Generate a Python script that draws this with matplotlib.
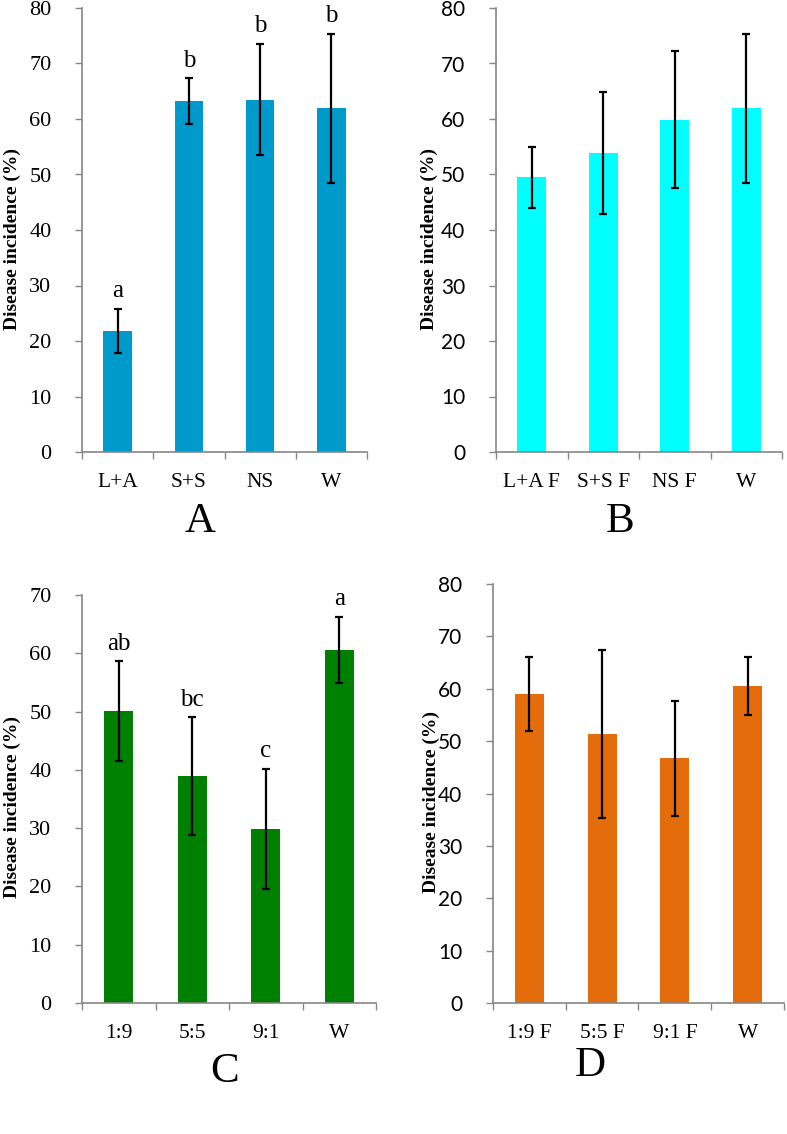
import matplotlib.pyplot as plt

cats_a = ['L+A', 'S+S', 'NS', 'W']
vals_a = [21.8, 63.2, 63.5, 61.9]
err_a = [4.0, 4.1, 10.0, 13.5]
sig_a = ['a', 'b', 'b', 'b']

cats_b = ['L+A F', 'S+S F', 'NS F', 'W']
vals_b = [49.5, 53.8, 59.9, 61.9]
err_b = [5.5, 11.0, 12.4, 13.5]

cats_c = ['1:9', '5:5', '9:1', 'W']
vals_c = [50.1, 38.9, 29.9, 60.6]
err_c = [8.5, 10.1, 10.3, 5.7]
sig_c = ['ab', 'bc', 'c', 'a']

cats_d = ['1:9 F', '5:5 F', '9:1 F', 'W']
vals_d = [59.0, 51.4, 46.7, 60.5]
err_d = [7.1, 16.0, 11.0, 5.6]

W, H = 787, 1134
SERIF = 'Liberation Serif'
SANS = 'Lato'
GRAY = '#868686'

fig = plt.figure(figsize=(W / 100, H / 100), dpi=100)


def px_rect(x0, x1, ytop, ybot):
    return [x0 / W, 1 - ybot / H, (x1 - x0) / W, (ybot - ytop) / H]


def panel(rect, cats, vals, errs, color, ymax, tickfont, label_gap, letter, letter_xy, sig=None):
    ax = fig.add_axes(rect)
    x = list(range(len(cats)))
    ax.bar(x, vals, width=0.4, color=color, zorder=2)
    ax.errorbar(x, vals, yerr=errs, fmt='none', ecolor='black',
                elinewidth=1.6, capsize=3, capthick=1.6, zorder=3)
    if sig:
        for xi, v, e, s in zip(x, vals, errs, sig):
            ax.annotate(s, (xi, v + e), xytext=(0, 8.5), textcoords='offset points',
                        ha='center', va='baseline', fontsize=18, family=SERIF)
    ax.set_xlim(-0.5, len(cats) - 0.5)
    ax.set_ylim(0, ymax)
    ax.set_yticks(range(0, ymax + 1, 10))
    ax.set_xticks([i - 0.5 for i in range(len(cats) + 1)])
    ax.set_xticklabels([])
    ax.set_xticks(x, minor=True)
    ax.set_xticklabels(cats, minor=True, fontsize=15.5, family=SERIF)
    ax.tick_params(axis='x', which='minor', length=0, pad=15)
    ax.tick_params(axis='x', which='major', length=5, width=1, color=GRAY, direction='out')
    ax.tick_params(axis='y', length=5, width=1, color=GRAY, direction='out', pad=17)
    for lab in ax.get_yticklabels():
        lab.set_family(tickfont)
        lab.set_fontsize(16 if tickfont == SERIF else 15)
    for side in ['top', 'right']:
        ax.spines[side].set_visible(False)
    for side in ['left', 'bottom']:
        ax.spines[side].set_color(GRAY)
        ax.spines[side].set_linewidth(1.2)
    ax.set_ylabel('Disease incidence (%)', fontsize=14, fontweight='bold', family=SERIF)
    width_px = rect[2] * W
    ax.yaxis.set_label_coords(-label_gap / width_px, 0.48)
    fig.text(letter_xy[0] / W, 1 - letter_xy[1] / H, letter, fontsize=31,
             family=SERIF, ha='center', va='center')
    return ax


panel(px_rect(82, 367, 8, 452), cats_a, vals_a, err_a, '#0099CC', 80, SERIF, 61, 'A', (200, 522), sig_a)
panel(px_rect(496, 782, 8, 452), cats_b, vals_b, err_b, '#00FFFF', 80, SANS, 58, 'B', (620, 522))
panel(px_rect(82, 376, 595, 1003), cats_c, vals_c, err_c, '#008000', 70, SERIF, 61, 'C', (225, 1072), sig_c)
panel(px_rect(493, 784, 584, 1003), cats_d, vals_d, err_d, '#E46C0A', 80, SANS, 53, 'D', (590, 1066))

plt.savefig('out.png', dpi=100)
